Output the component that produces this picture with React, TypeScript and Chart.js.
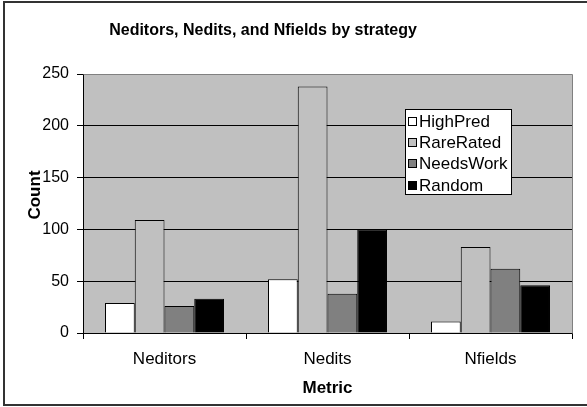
import React, { useEffect, useRef } from "react";
import { Chart, registerables } from "chart.js";

Chart.register(...registerables);

const chartTitle = "Neditors, Nedits, and Nfields by strategy";
const xTitle = "Metric";
const yTitle = "Count";
const categories = ["Neditors", "Nedits", "Nfields"];
const seriesNames = ["HighPred", "RareRated", "NeedsWork", "Random"];
const highPred = [29, 52, 11];
const rareRated = [109, 238, 83];
const needsWork = [26, 38, 62];
const random = [33, 100, 46];
const seriesColors = ["#FFFFFF", "#C0C0C0", "#808080", "#000000"];
const yMin = 0;
const yMax = 250;
const yStep = 50;

const FONT = '"Liberation Sans", Arial, Helvetica, sans-serif';

const decorPlugin = {
  id: "decor",
  beforeDraw(chart: any) {
    const { ctx, chartArea: a, width, height } = chart;
    ctx.save();
    ctx.fillStyle = "#FFFFFF";
    ctx.fillRect(0, 0, width, height);
    ctx.fillStyle = "#C0C0C0";
    ctx.fillRect(a.left, a.top, a.right - a.left, a.bottom - a.top);
    ctx.strokeStyle = "#333333";
    ctx.lineWidth = 2;
    ctx.strokeRect(4, 2, width + 40, 403);
    ctx.restore();
  },
  afterDatasetsDraw(chart: any) {
    const { ctx, chartArea: a } = chart;
    ctx.save();
    ctx.strokeStyle = "#808080";
    ctx.lineWidth = 1;
    ctx.beginPath();
    ctx.moveTo(Math.round(a.left) + 0.5, Math.round(a.top) + 0.5);
    ctx.lineTo(Math.round(a.right) + 0.5, Math.round(a.top) + 0.5);
    ctx.lineTo(Math.round(a.right) + 0.5, Math.round(a.bottom) + 0.5);
    ctx.stroke();
    ctx.restore();
  },
  afterDraw(chart: any) {
    const { ctx, chartArea: a } = chart;
    ctx.save();
    ctx.fillStyle = "#000000";
    ctx.textAlign = "center";
    ctx.textBaseline = "middle";
    ctx.font = "bold 16px " + FONT;
    ctx.fillText(chartTitle, 263, 31);
    ctx.font = "bold 17px " + FONT;
    ctx.fillText(xTitle, (a.left + a.right) / 2, 388);
    ctx.save();
    ctx.translate(35, 195);
    ctx.rotate(-Math.PI / 2);
    ctx.fillText(yTitle, 0, 0);
    ctx.restore();

    // legend
    const lx = 405, ly = 109, lw = 106, lh = 85;
    ctx.fillStyle = "#FFFFFF";
    ctx.fillRect(lx, ly, lw, lh);
    ctx.strokeStyle = "#000000";
    ctx.lineWidth = 1;
    ctx.strokeRect(lx + 0.5, ly + 0.5, lw, lh);
    ctx.font = "17px " + FONT;
    ctx.textAlign = "left";
    chart.data.datasets.forEach((ds: any, i: number) => {
      const cy = ly + 12 + i * 21.4;
      ctx.fillStyle = ds.backgroundColor;
      ctx.fillRect(lx + 3, Math.round(cy - 4.5), 9, 9);
      ctx.strokeStyle = "#000000";
      ctx.strokeRect(lx + 3.5, Math.round(cy - 4.5) + 0.5, 8, 8);
      ctx.fillStyle = "#000000";
      ctx.fillText(ds.label, lx + 14, cy + 1);
    });
    ctx.restore();
  },
};

export default function App() {
  const ref = useRef<HTMLCanvasElement | null>(null);
  useEffect(() => {
    if (!ref.current) return;
    const seriesData = [highPred, rareRated, needsWork, random];
    const chart = new Chart(ref.current, {
      type: "bar",
      data: {
        labels: categories,
        datasets: seriesNames.map((name, i) => ({
          label: name,
          data: seriesData[i],
          backgroundColor: seriesColors[i],
          borderColor: "#000000",
          borderWidth: 1,
          categoryPercentage: 0.73,
          barPercentage: 1.0,
        })),
      },
      options: {
        responsive: false,
        animation: false,
        devicePixelRatio: 1,
        layout: { padding: { top: 74, right: 15, bottom: 0, left: 0 } },
        plugins: {
          legend: { display: false },
          title: { display: false },
          tooltip: { enabled: false },
        },
        scales: {
          x: {
            type: "category",
            offset: true,
            grid: {
              offset: true,
              drawOnChartArea: false,
              drawTicks: true,
              tickLength: 6,
              color: "#000000",
            },
            border: { display: true, color: "#000000" },
            ticks: {
              color: "#000000",
              padding: 10,
              font: { family: FONT, size: 17 },
            },
            afterFit: (scale: any) => {
              scale.height = 74;
            },
          },
          y: {
            min: yMin,
            max: yMax,
            grid: {
              color: (c: any) => (c.tick && c.tick.value === yMax ? "#808080" : "#000000"),
              tickColor: "#000000",
              tickLength: 6,
            },
            border: { display: true, color: "#000000" },
            ticks: {
              stepSize: yStep,
              color: "#000000",
              padding: 8,
              font: { family: FONT, size: 16 },
            },
            afterFit: (scale: any) => {
              scale.width = 83;
            },
          },
        },
      },
      plugins: [decorPlugin],
    });
    return () => chart.destroy();
  }, []);
  return (
    <div style={{ position: "absolute", left: 0, top: 0, width: 587, height: 407 }}>
      <canvas ref={ref} width={587} height={407} style={{ display: "block" }} />
    </div>
  );
}
